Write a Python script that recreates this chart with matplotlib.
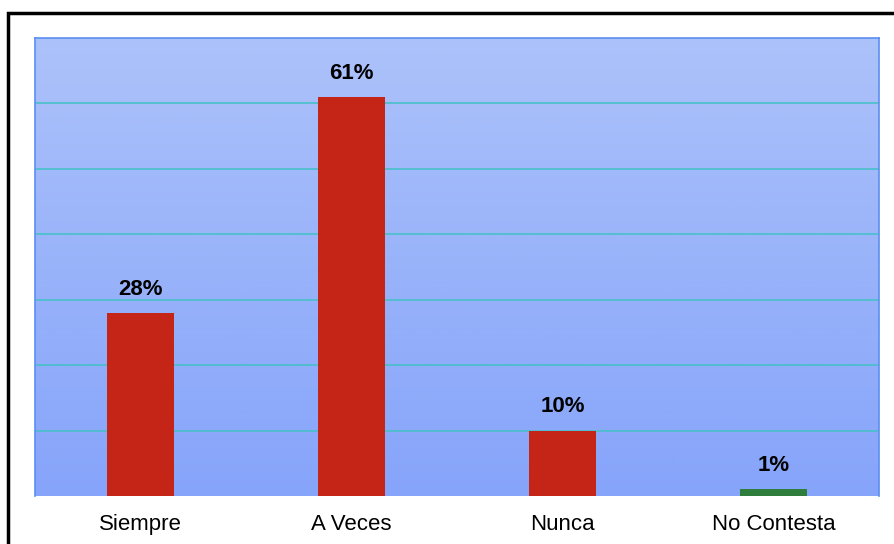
import numpy as np
import matplotlib
matplotlib.use("Agg")
import matplotlib.pyplot as plt
from matplotlib.patches import Rectangle

categories = ["Siempre", "A Veces", "Nunca", "No Contesta"]
values = [28, 61, 10, 1]
labels = ["28%", "61%", "10%", "1%"]
colors = ["#c42516", "#c42516", "#c42516", "#2e7d3c"]

plt.rcParams["font.family"] = ["Liberation Sans", "DejaVu Sans"]

W, H = 895, 544
fig = plt.figure(figsize=(W / 100, H / 100), dpi=100)
fig.patch.set_facecolor("white")

# plot area in pixels
x0, x1, y0, y1 = 35, 879, 38, 496
ax = fig.add_axes([x0 / W, 1 - y1 / H, (x1 - x0) / W, (y1 - y0) / H])

# vertical gradient background
top = np.array([172, 194, 250]) / 255
bot = np.array([134, 164, 250]) / 255
t = np.linspace(0, 1, 256)[:, None]
grad = (top * (1 - t) + bot * t)[:, None, :].repeat(2, axis=1)
ax.imshow(grad, extent=[0, 4, 0, 70], aspect="auto", zorder=0, origin="upper")

xs = np.arange(len(categories)) + 0.5
ax.bar(xs, values, width=0.313, color=colors, zorder=3)
for x, v, lab in zip(xs, values, labels):
    ax.text(x, v + 2.0, lab, ha="center", va="bottom", fontsize=16,
            fontweight="bold", color="black", zorder=4)

ax.set_xlim(0, 4)
ax.set_ylim(0, 70)
ax.set_yticks(np.arange(10, 70, 10))
ax.yaxis.grid(True, color="#48c0c8", lw=1.2, zorder=1)
ax.set_axisbelow(True)
ax.tick_params(axis="y", length=0, labelleft=False)
ax.set_xticks(xs)
ax.set_xticklabels(categories, fontsize=16)
ax.tick_params(axis="x", length=0, pad=13)
for side in ("left", "top", "right"):
    ax.spines[side].set_color("#5b8ef2")
    ax.spines[side].set_linewidth(1.2)
ax.spines["bottom"].set_visible(False)

# outer black frame (runs off the right and bottom edges)
fig.patches.append(Rectangle((8.0 / W, -0.05), 1.1, 1 - 12.5 / H + 0.05,
                             transform=fig.transFigure, fill=False,
                             edgecolor="black", lw=2.5))

fig.savefig("out.png", dpi=100)
